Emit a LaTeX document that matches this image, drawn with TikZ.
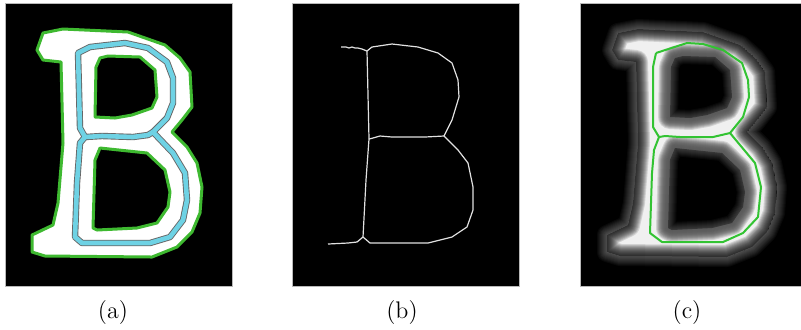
\documentclass[tikz,border=0pt]{standalone}
\definecolor{bgreen}{RGB}{62,185,48}
\definecolor{bcyan}{RGB}{110,210,228}
\definecolor{cgreen}{RGB}{50,195,50}
\definecolor{skel}{RGB}{225,225,225}
\newcommand{\Bouter}{(43,33) -- (63,29) -- (128,32) -- (165,45) -- (180,58) -- (190,72) -- (192,107) -- (182,120) -- (172,132) -- (187,147) -- (197,163) -- (202,187) -- (200,213) -- (192,232) -- (177,247) -- (152,257) -- (45,256) -- (32,252) -- (32,235) -- (53,225) -- (58,203) -- (63,143) -- (61,62) -- (43,60) -- (37,50) -- cycle}
\newcommand{\Bup}{(100,58) -- (108,56) -- (140,57) -- (155,70) -- (157,97) -- (152,108) -- (132,115) -- (115,118) -- (95,117) -- (96,67) -- cycle}
\newcommand{\Blow}{(100,148) -- (147,153) -- (165,170) -- (170,192) -- (168,207) -- (157,223) -- (137,228) -- (97,230) -- (93,228) -- (95,160) -- cycle}
\newcommand{\BandTop}{(aj2) -- (80,128) -- (78,53) -- (90,47) -- (125,43) -- (148,48) -- (167,62) -- (173,78) -- (173,103) -- (167,118) -- (aj1)}
\newcommand{\BandMid}{(aj1) -- (148,135) -- (133,137) -- (102,136) -- (aj2)}
\newcommand{\BandLow}{(aj2) -- (80,143) -- (77,183) -- (75,237) -- (82,243) -- (150,243) -- (170,237) -- (183,220) -- (187,200) -- (185,173) -- (173,153) -- (aj1)}
\tikzset{
  panel/.style={fill=black, draw=gray!55, line width=0.5pt},
  contour/.style={bgreen, line width=1.5pt, line join=round},
  bandedge/.style={black!60, line width=3.2pt, line join=round},
  band/.style={bcyan, line width=2.3pt, line join=round},
  skelline/.style={skel, line width=0.6pt, line join=round},
  greenskel/.style={cgreen, line width=1pt, line join=round},
  lab/.style={font=\fontsize{12}{14}\selectfont, inner sep=0pt}
}
\begin{document}
\begin{tikzpicture}[x=0.5pt, y=-0.5pt]
\useasboundingbox (0,0) rectangle (801,329);
% ---------- panel (a)
\path[panel] (5,3) rectangle (232,286);
\fill[white] \Bouter;
\fill[black] \Bup;
\fill[black] \Blow;
\draw[contour] \Bouter;
\draw[contour] \Bup;
\draw[contour] \Blow;
\coordinate (aj1) at (153,132);
\coordinate (aj2) at (85,137);
\draw[bandedge] \BandTop;
\draw[bandedge] \BandMid;
\draw[bandedge] \BandLow;
\draw[band] \BandTop;
\draw[band] \BandMid;
\draw[band] \BandLow;
% ---------- panel (b)
\path[panel] (292,3) rectangle (519,286);
\coordinate (bj1) at (367,51);
\coordinate (bj2) at (444,136);
\coordinate (bj3) at (369,139);
\coordinate (bj4) at (363,237);
\draw[skelline] (341,47) -- (346,47) -- (349,48) -- (352,47) -- (355,48) -- (358,48) -- (362,49) -- (bj1);
\draw[skelline] (bj1) -- (372,47) -- (392,44) -- (418,47) -- (438,53) -- (452,63) -- (458,80) -- (459,97) -- (452,120) -- (bj2);
\draw[skelline] (bj2) -- (425,137) -- (392,137) -- (380,136) -- (373,138) -- (bj3);
\draw[skelline] (bj1) -- (368,95) -- (bj3) -- (366,180) -- (bj4);
\draw[skelline] (bj2) -- (458,150) -- (468,163) -- (473,187) -- (473,210) -- (467,227) -- (452,237) -- (428,243) -- (392,243) -- (370,243) -- (bj4);
\draw[skelline] (bj4) -- (357,242) -- (348,243) -- (328,244);
% ---------- panel (c)
\path[panel] (580,3) rectangle (802,286);
\begin{scope}[shift={(575,0)}]
  \foreach \w in {10,9,...,1}{
    \draw[white, opacity=0.035, line width=\w pt, line join=round] \Bouter;
  }
  \begin{scope}
    \clip \Bouter;
    \fill[white!94!black] \Bouter;
    \foreach \w in {12,11,...,1}{
      \draw[black, opacity=0.12, line width=\w pt, line join=round] \Bouter;
      \draw[black, opacity=0.12, line width=\w pt, line join=round] \Bup;
      \draw[black, opacity=0.12, line width=\w pt, line join=round] \Blow;
    }
    \fill[black] \Bup;
    \fill[black] \Blow;
  \end{scope}
  \foreach \w in {8,7,...,1}{
    \draw[white, opacity=0.03, line width=\w pt, line join=round] \Bup;
    \draw[white, opacity=0.03, line width=\w pt, line join=round] \Blow;
  }
\end{scope}
\coordinate (cj1) at (656,53);
\coordinate (cj2) at (730,133);
\coordinate (cj3) at (659,137);
\draw[greenskel] (cj1) -- (687,43) -- (703,44) -- (723,50) -- (742,63) -- (748,80) -- (749,97) -- (743,117) -- (cj2);
\draw[greenskel] (cj2) -- (713,137) -- (680,137) -- (665,136) -- (cj3);
\draw[greenskel] (cj3) -- (653,127) -- (653,67) -- (cj1);
\draw[greenskel] (cj3) -- (654,150) -- (652,173) -- (650,233) -- (662,242) -- (723,242) -- (743,233) -- (758,217) -- (761,187) -- (755,163) -- (cj2);
% ---------- labels
\node[lab] (la) at (113,312) {(a)};
\node[lab] (lb) at (402,312) {(b)};
\node[lab] (lc) at (687,312) {(c)};
\end{tikzpicture}
\end{document}
